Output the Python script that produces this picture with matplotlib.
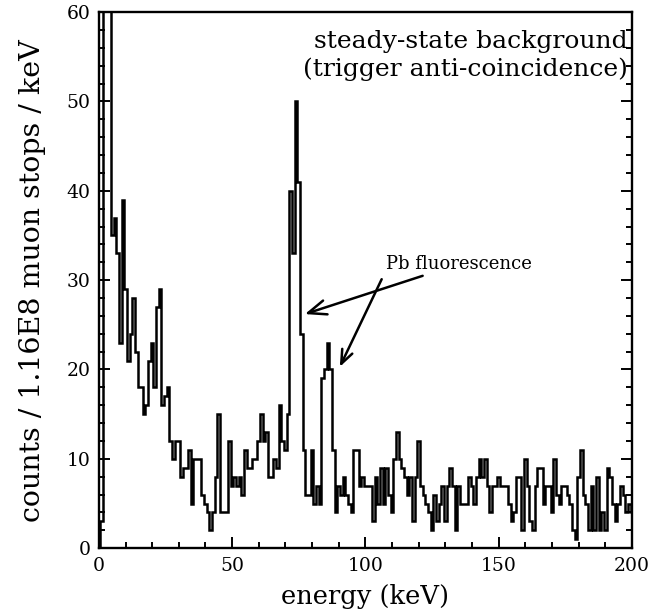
import numpy as np
import matplotlib
matplotlib.use("Agg")
import matplotlib.pyplot as plt
from matplotlib.ticker import MultipleLocator

plt.rcParams['font.family'] = ['DejaVu Serif']

# counts per 1 keV bin, bin centres 0..200 keV
energy = np.arange(0, 201)
counts = [
    0, 3, 80, 80, 80, 35, 37, 33, 23, 39,
    29, 21, 24, 28, 22, 18, 18, 15, 16, 21,
    23, 18, 27, 29, 16, 17, 18, 12, 10, 12,
    12, 8, 9, 9, 11, 5, 10, 10, 10, 6,
    5, 4, 2, 4, 8, 15, 4, 4, 4, 12,
    7, 8, 7, 8, 6, 11, 9, 9, 10, 10,
    12, 15, 12, 13, 8, 8, 10, 9, 16, 12,
    11, 15, 40, 33, 50, 41, 24, 11, 6, 6,
    11, 5, 7, 5, 19, 20, 23, 20, 11, 4,
    7, 6, 8, 6, 5, 4, 11, 11, 7, 8,
    7, 7, 7, 3, 8, 5, 9, 5, 9, 6,
    4, 10, 13, 10, 9, 8, 6, 8, 3, 8,
    12, 7, 6, 5, 4, 2, 6, 3, 5, 7,
    3, 7, 9, 7, 2, 7, 5, 5, 5, 8,
    7, 5, 8, 10, 8, 10, 7, 4, 7, 7,
    8, 7, 7, 7, 5, 3, 4, 8, 8, 2,
    10, 7, 3, 2, 7, 9, 9, 5, 7, 7,
    4, 10, 6, 5, 7, 7, 6, 5, 2, 1,
    8, 11, 6, 5, 2, 7, 2, 8, 2, 4,
    2, 9, 8, 5, 3, 5, 7, 6, 4, 5,
    4]
edges = np.append(energy - 0.5, energy[-1] + 0.5)

fig = plt.figure(figsize=(6.59, 6.16), dpi=100)
ax = fig.add_axes([0.150, 0.110, 0.809, 0.8705])

ax.stairs(counts, edges, color='black', linewidth=1.8)

ax.set_xlim(0, 200)
ax.set_ylim(0, 60)
ax.xaxis.set_major_locator(MultipleLocator(50))
ax.xaxis.set_minor_locator(MultipleLocator(10))
ax.yaxis.set_major_locator(MultipleLocator(10))
ax.yaxis.set_minor_locator(MultipleLocator(2))
ax.tick_params(which='both', direction='in', left=True, right=True,
               top=False, bottom=True, width=1.4, labelsize=13.5, pad=6)
ax.tick_params(which='major', length=8)
ax.tick_params(which='minor', length=4.5)
for s in ax.spines.values():
    s.set_linewidth(1.7)

ax.set_xlabel('energy (keV)', fontsize=18.5, labelpad=7)
ax.set_ylabel('counts / 1.16E8 muon stops / keV', fontsize=20.5, labelpad=15)

ax.text(0.9925, 0.966, 'steady-state background\n(trigger anti-coincidence)',
        transform=ax.transAxes, ha='right', va='top', fontsize=18,
        linespacing=1.25)

arrow = dict(arrowstyle='->,head_length=1.0,head_width=0.4', color='black',
             linewidth=1.8, shrinkA=0, shrinkB=0)
ax.annotate('Pb fluorescence', xy=(77.3, 26.2), xytext=(107.7, 31.8),
            ha='left', va='center', fontsize=13, arrowprops=arrow)
ax.annotate('', xy=(90.4, 20.3), xytext=(106.1, 30.1), arrowprops=arrow)

fig.savefig('out.png', dpi=100)
